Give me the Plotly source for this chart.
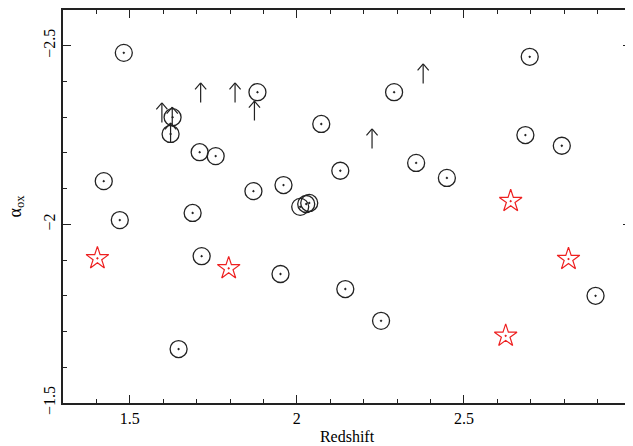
import plotly.graph_objects as go

# Detections (open circles)
det_z = [1.482, 1.422, 1.470, 1.628, 1.622, 1.709, 1.757, 1.688, 1.715, 1.646,
         1.882, 1.870, 1.960, 1.951, 2.010, 2.028, 2.037, 2.073, 2.130, 2.145,
         2.252, 2.291, 2.357, 2.449, 2.697, 2.684, 2.793, 2.894]
det_aox = [-2.480, -2.121, -2.012, -2.300, -2.253, -2.202, -2.191, -2.032, -1.911, -1.651,
           -2.370, -2.093, -2.110, -1.861, -2.049, -2.057, -2.060, -2.281, -2.150, -1.819,
           -1.730, -2.370, -2.172, -2.130, -2.469, -2.250, -2.220, -1.800]

# Special sources (red stars)
star_z = [1.403, 1.796, 2.640, 2.625, 2.813]
star_aox = [-1.905, -1.877, -2.065, -1.688, -1.903]

# Limits (arrows; value = arrow tip)
lim_z = [1.596, 1.627, 1.622, 1.712, 1.815, 1.873, 2.225, 2.378]
lim_aox = [-2.340, -2.328, -2.284, -2.396, -2.396, -2.345, -2.267, -2.449]

x_ticks = [1.5, 2, 2.5, 3]
x_ticktext = ["1.5", "2", "2.5", "3"]
y_ticks = [-2.5, -2, -1.5]
y_ticktext = ["\u22122.5", "\u22122", "\u22121.5"]

FONT = "Liberation Serif"
INK = "#222222"
STEM_PX = 20
ARM_PX = 6

fig = go.Figure()
fig.add_trace(go.Scatter(
    x=det_z, y=det_aox, mode="markers",
    marker=dict(symbol="circle-open-dot", size=17, color=INK, line=dict(width=1.3, color=INK)),
    showlegend=False))
fig.add_trace(go.Scatter(
    x=star_z, y=star_aox, mode="markers",
    marker=dict(symbol="star-open-dot", size=17, color="#ee2020", line=dict(width=1.2, color="#ee2020")),
    showlegend=False))

for xz, ya in zip(lim_z, lim_aox):
    for axp, ayp in [(0, STEM_PX), (-ARM_PX, ARM_PX + 1), (ARM_PX, ARM_PX + 1)]:
        fig.add_annotation(x=xz, y=ya, xref="x", yref="y", ax=axp, ay=ayp, text="",
                           showarrow=True, arrowhead=0, arrowwidth=1.2,
                           arrowcolor=INK, standoff=0, borderpad=0)

# y-axis title placed as a rotated label left of the tick labels
fig.add_annotation(text="\u03b1<sub>ox</sub>", xref="paper", yref="paper", x=0, y=0.5,
                   xanchor="center", yanchor="middle", xshift=-47, textangle=-90,
                   showarrow=False, font=dict(family=FONT, size=18, color="black"))

axis_common = dict(
    showline=True, linecolor=INK, linewidth=1.5, mirror="ticks",
    ticks="inside", ticklen=8, tickwidth=1.3, tickcolor=INK,
    showgrid=False, zeroline=False, automargin=False, ticklabeloverflow="allow",
    tickfont=dict(family=FONT, size=16, color="black"),
)

fig.update_xaxes(**axis_common, range=[1.3, 3.0001], tickvals=x_ticks, ticktext=x_ticktext,
                 minor=dict(dtick=0.1, tick0=0, ticks="inside", ticklen=4, tickwidth=1.3, tickcolor=INK),
                 title=dict(text="Redshift", font=dict(family=FONT, size=16, color="black"), standoff=5))
fig.update_yaxes(**axis_common, range=[-1.5, -2.6], tickvals=y_ticks, ticktext=y_ticktext,
                 tickangle=-90, ticklabelstandoff=0,
                 minor=dict(dtick=0.1, tick0=0, ticks="inside", ticklen=4, tickwidth=1.3, tickcolor=INK))

fig.update_layout(
    width=625, height=438,
    margin=dict(l=55, r=2, t=2, b=43),
    plot_bgcolor="white", paper_bgcolor="white",
)

fig.write_html("out.html")
